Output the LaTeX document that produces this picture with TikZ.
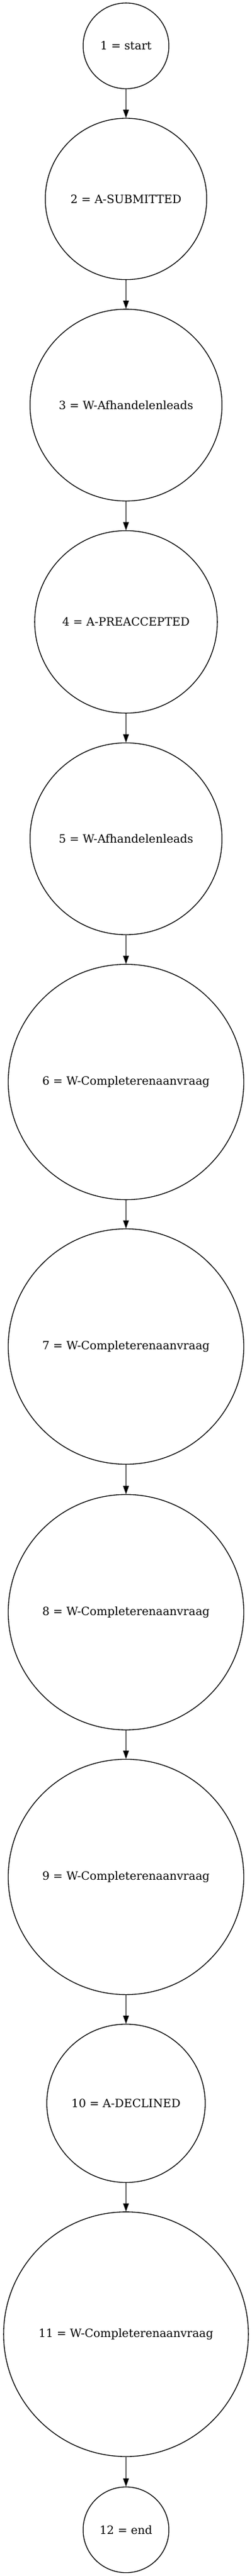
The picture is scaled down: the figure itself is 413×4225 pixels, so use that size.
\documentclass[tikz,border=0pt]{standalone}
\usepackage{fontspec}
\setmainfont{DejaVu Serif}
\usetikzlibrary{arrows.meta}
\begin{document}
\begin{tikzpicture}[x=0.75pt,y=-0.75pt,
  state/.style={circle,draw=black,line width=1pt,inner sep=0pt,minimum size=#1*1.5pt,
    font=\fontsize{14pt}{16pt}\selectfont},
  flow/.style={line width=1pt,-{Triangle[length=10pt,width=7pt]}}]
\useasboundingbox (0,0) rectangle (413,4225);
\node[state=70.3]  (n1)  at (206.5,75.2)   {1 = start};
\node[state=132.3] (n2)  at (206.5,326.3)  {2 = A-SUBMITTED};
\node[state=157.3] (n3)  at (206.5,664.4)  {3 = W-Afhandelenleads};
\node[state=149.6] (n4)  at (206.5,1020)   {4 = A-PREACCEPTED};
\node[state=157.3] (n5)  at (206.5,1375.7) {5 = W-Afhandelenleads};
\node[state=193]   (n6)  at (206.5,1774.6) {6 = W-Completerenaanvraag};
\node[state=193]   (n7)  at (206.5,2208.5) {7 = W-Completerenaanvraag};
\node[state=193]   (n8)  at (206.5,2644.2) {8 = W-Completerenaanvraag};
\node[state=193]   (n9)  at (206.5,3078.4) {9 = W-Completerenaanvraag};
\node[state=129.8] (n10) at (206.5,3449.7) {10 = A-DECLINED};
\node[state=200.6] (n11) at (206.5,3828.4) {11 = W-Completerenaanvraag};
\node[state=70.3]  (n12) at (206.5,4149.2) {12 = end};
\draw[flow] (n1) -- (n2);
\draw[flow] (n2) -- (n3);
\draw[flow] (n3) -- (n4);
\draw[flow] (n4) -- (n5);
\draw[flow] (n5) -- (n6);
\draw[flow] (n6) -- (n7);
\draw[flow] (n7) -- (n8);
\draw[flow] (n8) -- (n9);
\draw[flow] (n9) -- (n10);
\draw[flow] (n10) -- (n11);
\draw[flow] (n11) -- (n12);
\end{tikzpicture}
\end{document}
